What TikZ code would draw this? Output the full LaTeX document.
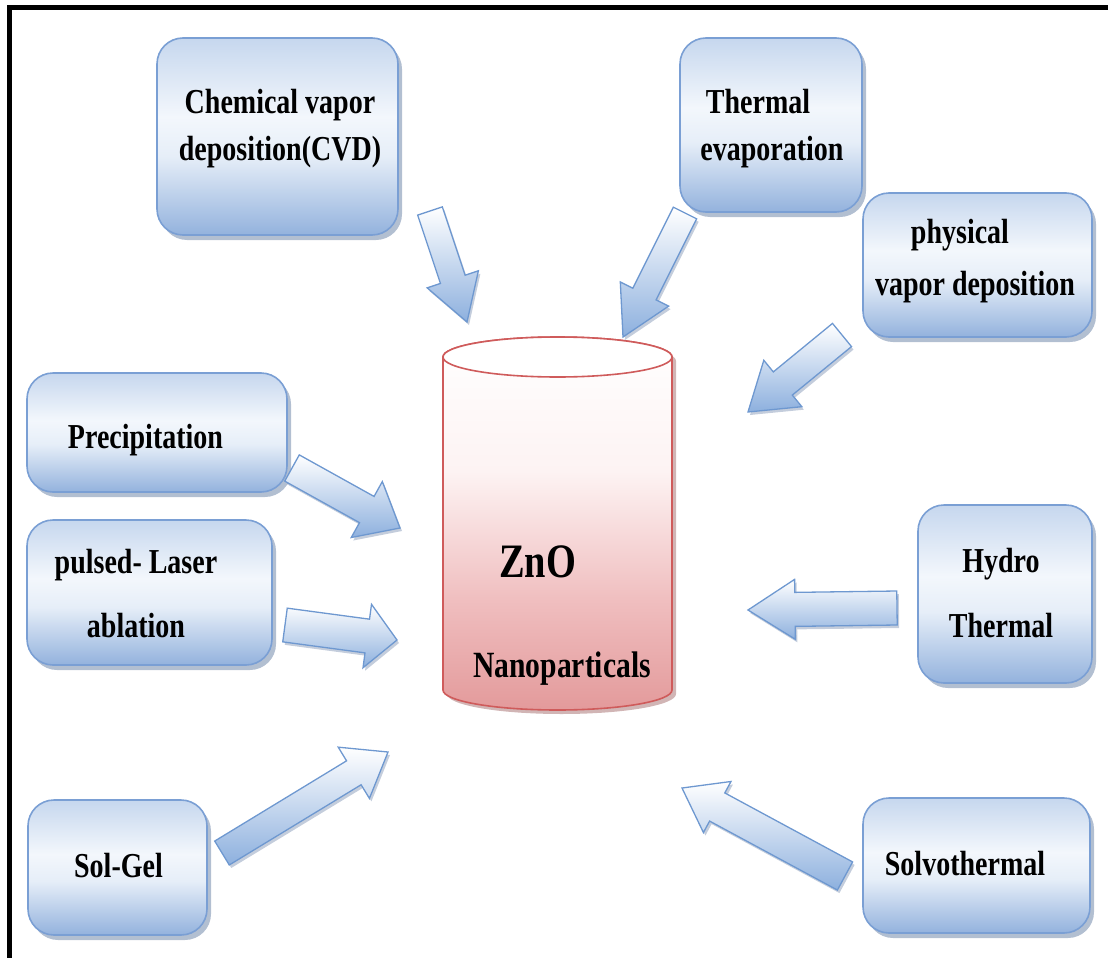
\documentclass[tikz,border=0pt]{standalone}
\usepackage{fontspec}
\newfontfamily\lblfont{Liberation Serif}[FakeStretch=0.8]
\usetikzlibrary{calc,shadows}

\definecolor{boxedge}{HTML}{7A9FD4}
\definecolor{boxbot}{HTML}{93B2DD}
\definecolor{boxmid}{HTML}{E6EEF8}
\definecolor{boxlight}{HTML}{F3F7FC}
\definecolor{boxtop}{HTML}{C6D7EE}
\definecolor{boxshadow}{HTML}{55709A}
\definecolor{arrowedge}{HTML}{6E98D0}
\definecolor{arrowblue}{HTML}{8DB0DE}
\definecolor{cyledge}{HTML}{CF5B5B}
\definecolor{cylbot}{HTML}{E39A9B}
\definecolor{cylmid}{HTML}{F0BFC0}
\definecolor{cyllight}{HTML}{FDF3F3}
\definecolor{cylshadow}{HTML}{9A5A5A}

% office-style gradient of the method boxes (path spans 25bp..75bp)
\pgfdeclareverticalshading{boxshade}{100bp}{color(0bp)=(boxbot); color(25bp)=(boxbot); color(45bp)=(boxmid); color(55bp)=(boxlight); color(75bp)=(boxtop); color(100bp)=(boxtop)}
% white-to-rose gradient of the ZnO cylinder
\pgfdeclareverticalshading{cylshade}{100bp}{color(0bp)=(cylbot); color(25bp)=(cylbot); color(40bp)=(cylmid); color(57bp)=(cyllight); color(75bp)=(white); color(100bp)=(white)}

% block arrow from a tail coordinate to a tip coordinate:
% #1 tail, #2 tip, #3 shaft half width, #4 head half width, #5 head length
\newcommand\blockarrow[5]{%
  \path[fatarrow] let \p1=($(#2)-(#1)$), \n1={atan2(\y1,\x1)} in
    ($(#1)+(\n1+90:#3)$)
    -- ($(#2)+(\n1+180:#5)+(\n1+90:#3)$)
    -- ($(#2)+(\n1+180:#5)+(\n1+90:#4)$)
    -- (#2)
    -- ($(#2)+(\n1+180:#5)+(\n1-90:#4)$)
    -- ($(#2)+(\n1+180:#5)+(\n1-90:#3)$)
    -- ($(#1)+(\n1-90:#3)$) -- cycle;}

\begin{document}
\begin{tikzpicture}[x=1pt,y=-1pt,
  frame/.style={line width=5pt, line cap=rect},
  box/.style={rounded corners=26pt, draw=boxedge, line width=1.6pt,
    shade, shading=boxshade,
    drop shadow={shadow xshift=4pt, shadow yshift=-5pt, fill=boxshadow, opacity=.45}},
  lbl/.style={font=\lblfont\bfseries\fontsize{#1}{47}\selectfont,
    align=center, anchor=base, inner sep=0pt},
  lbl/.default=35,
  fatarrow/.style={draw=arrowedge, line width=1.3pt, top color=white, bottom color=arrowblue,
    drop shadow={shadow xshift=2pt, shadow yshift=-3pt, fill=boxshadow, opacity=.35}},
  cylbody/.style={draw=cyledge, line width=1.6pt, shade, shading=cylshade,
    drop shadow={shadow xshift=4pt, shadow yshift=-4pt, fill=cylshadow, opacity=.45}},
  cyltop/.style={draw=cyledge, line width=1.6pt, fill=white}]

\useasboundingbox (0,0) rectangle (1108,958);

% outer frame (left and top rules)
\draw[frame] (9.5,958) -- (9.5,8) -- (1108,8);

% ZnO cylinder
\path[cylbody] (443,357) -- (443,690)
  arc[start angle=180, end angle=360, x radius=114.5pt, y radius=20pt]
  -- (672,357)
  arc[start angle=0, end angle=180, x radius=114.5pt, y radius=20pt] -- cycle;
\draw[cyltop] (557.5,357) ellipse[x radius=114.5pt, y radius=20pt];
\node[lbl=48] (zno-lbl) at (537.5,577) {ZnO};
\node[lbl=37] (nano-lbl) at (562,677) {Nanoparticals};

% synthesis method boxes
\node[box, minimum width=241pt, minimum height=197pt] (cvd) at (277.5,136.5) {};
\node[box, minimum width=182pt, minimum height=174pt] (thermal) at (771,125) {};
\node[box, minimum width=229pt, minimum height=144pt] (pvd) at (977.5,265) {};
\node[box, minimum width=260pt, minimum height=119pt] (precip) at (157,432.5) {};
\node[box, minimum width=245pt, minimum height=145pt] (pulsed) at (149.5,592.5) {};
\node[box, minimum width=179pt, minimum height=135pt] (solgel) at (117.5,867.5) {};
\node[box, minimum width=174pt, minimum height=178pt] (hydro) at (1005,594) {};
\node[box, minimum width=227pt, minimum height=135pt] (solvo) at (976.5,865.5) {};

% box labels (a multi-line label sits on the baseline of its last line)
\node[lbl] (cvd-lbl) at (280,160) {Chemical vapor\\deposition(CVD)};
\node[lbl] (thermal-lbl) at (772,160) {Thermal\hspace*{28pt}\\evaporation};
\node[lbl] (pvd-lbl) at (975,295) {physical\hspace*{30pt}\\[5pt]vapor deposition};
\node[lbl] (precip-lbl) at (145.5,448) {Precipitation};
\node[lbl] (pulsed-lbl) at (136,637) {pulsed- Laser\\[17pt]ablation};
\node[lbl] (solgel-lbl) at (118.5,877) {Sol-Gel};
\node[lbl] (hydro-lbl) at (1001,637) {Hydro\\[18pt]Thermal};
\node[lbl] (solvo-lbl) at (965,875) {Solvothermal};

% arrow ends
\coordinate (cvd-t) at (430,211);      \coordinate (cvd-h) at (467,322);
\coordinate (thermal-t) at (685,213);  \coordinate (thermal-h) at (623,337);
\coordinate (pvd-t) at (842,335);      \coordinate (pvd-h) at (748,412);
\coordinate (precip-t) at (292,468);   \coordinate (precip-h) at (400,528);
\coordinate (pulsed-t) at (285,625);   \coordinate (pulsed-h) at (397,640);
\coordinate (solgel-t) at (222,853);   \coordinate (solgel-h) at (388,752);
\coordinate (hydro-t) at (897,608);    \coordinate (hydro-h) at (748,610);
\coordinate (solvo-t) at (845,876);    \coordinate (solvo-h) at (682,788);

% arrows into the cylinder
\blockarrow{cvd-t}{cvd-h}{13pt}{27pt}{45pt}
\blockarrow{thermal-t}{thermal-h}{13pt}{27pt}{48pt}
\blockarrow{pvd-t}{pvd-h}{15pt}{30pt}{45pt}
\blockarrow{precip-t}{precip-h}{15pt}{32pt}{38pt}
\blockarrow{pulsed-t}{pulsed-h}{17pt}{32pt}{30pt}
\blockarrow{solgel-t}{solgel-h}{14pt}{30pt}{40pt}
\blockarrow{hydro-t}{hydro-h}{17pt}{30pt}{47pt}
\blockarrow{solvo-t}{solvo-h}{16pt}{29pt}{40pt}
\end{tikzpicture}
\end{document}
